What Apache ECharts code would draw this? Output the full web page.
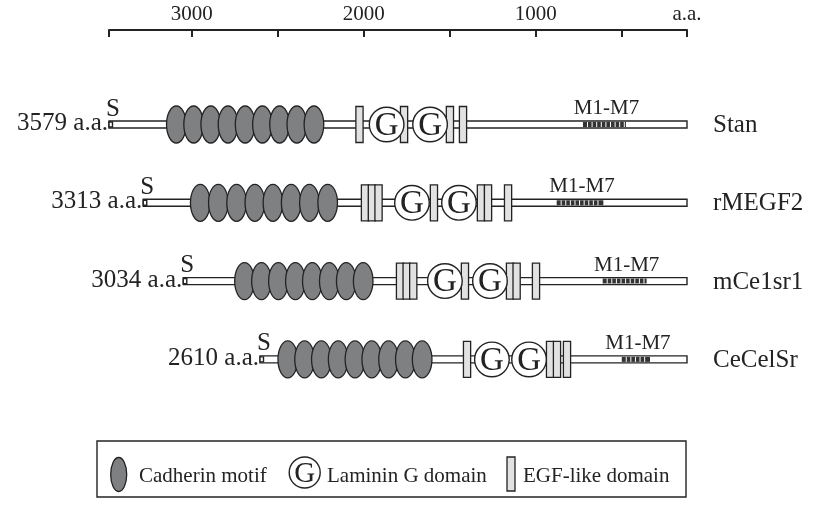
<!DOCTYPE html>
<html>
<head>
<meta charset="utf-8">
<script src="https://cdn.jsdelivr.net/npm/echarts@6/dist/echarts.min.js"></script>
<style>
html,body{margin:0;padding:0;background:#fff;}
#main{width:815px;height:511px;}
</style>
</head>
<body>
<div id="main"></div>
<script>
// ---- data (amino-acid positions) ----
const rowNames = ['Stan', 'rMEGF2', 'mCe1sr1', 'CeCelSr'];
const proteinLengths = [3579, 3313, 3034, 2610];
const drawnStart = [3579, 3367, 3119, 2644];   // N-terminal end as drawn
const drawnEnd = [0, 0, 0, 0];                  // C-terminal end as drawn

const cadherinStan    = [3162, 3055, 2949, 2842, 2736, 2629, 2523, 2416, 2310];
const cadherinRMEGF2  = [3014, 2902, 2789, 2676, 2564, 2451, 2338, 2225];
const cadherinMCelsr1 = [2740, 2635, 2530, 2425, 2320, 2215, 2110, 2005];
const cadherinCeCelSr = [2472, 2368, 2264, 2160, 2056, 1952, 1848, 1744, 1640];

const lamininStan    = [1860, 1591];
const lamininRMEGF2  = [1703, 1412];
const lamininMCelsr1 = [1499, 1220];
const lamininCeCelSr = [1208, 978];

const egfStan    = [2028, 1752, 1468, 1387];
const egfRMEGF2  = [1994, 1951, 1910, 1567, 1276, 1232, 1108];
const egfMCelsr1 = [1777, 1736, 1695, 1375, 1096, 1055, 935];
const egfCeCelSr = [1362, 848, 805, 743];

const tmStart = [644, 807, 522, 404];   // M1-M7 region
const tmEnd   = [378, 518, 250, 229];

const rulerTicks  = [3481, 3000, 2500, 2000, 1500, 1000, 500, 121];
const rulerLabels = [3000, 2000, 1000, 121];
const rulerEndLabel = 'a.a.';

// ---- build series data ----
const cadherins = [cadherinStan, cadherinRMEGF2, cadherinMCelsr1, cadherinCeCelSr];
const laminins = [lamininStan, lamininRMEGF2, lamininMCelsr1, lamininCeCelSr];
const egfs = [egfStan, egfRMEGF2, egfMCelsr1, egfCeCelSr];
const flat = arr => arr.flatMap((vals, r) => vals.map(v => [v, r]));

const FONT = '"Liberation Serif", "Times New Roman", serif';
const INK = '#232323';

const chart = echarts.init(document.getElementById('main'), null, {renderer: 'canvas'});

function renderBar(params, api) {
  const i = params.dataIndex;
  const r = api.value(2);
  const p0 = api.coord([api.value(0), r]);
  const p1 = api.coord([api.value(1), r]);
  const h = 7;
  return {
    type: 'group',
    children: [
      {type: 'rect', shape: {x: p0[0], y: p0[1] - h / 2, width: p1[0] - p0[0], height: h},
        style: {fill: '#fff', stroke: INK, lineWidth: 1.4}},
      {type: 'rect', shape: {x: p0[0], y: p0[1] - h / 2 + 1, width: 3.5, height: h - 2},
        style: {fill: '#fff', stroke: INK, lineWidth: 1.4}},
      {type: 'text', style: {text: 'S', x: p0[0] + 4, y: p0[1] - 3, align: 'center',
        verticalAlign: 'bottom', font: '25px ' + FONT, fill: INK}},
      {type: 'text', style: {text: proteinLengths[i] + ' a.a.', x: p0[0] - 1, y: p0[1] - 1,
        align: 'right', verticalAlign: 'middle', font: '25px ' + FONT, fill: INK}},
      {type: 'text', style: {text: rowNames[i], x: p1[0] + 26, y: p1[1] + 1,
        align: 'left', verticalAlign: 'middle', font: '25px ' + FONT, fill: INK}}
    ]
  };
}

function renderCadherin(params, api) {
  const p = api.coord([api.value(0), api.value(1)]);
  return {type: 'ellipse', shape: {cx: p[0], cy: p[1], rx: 9.8, ry: 18.5},
    style: {fill: '#7f8082', stroke: INK, lineWidth: 1.3}};
}

function renderLaminin(params, api) {
  const p = api.coord([api.value(0), api.value(1)]);
  return {type: 'group', children: [
    {type: 'circle', shape: {cx: p[0], cy: p[1], r: 17.3},
      style: {fill: '#fff', stroke: INK, lineWidth: 1.4}},
    {type: 'text', style: {text: 'G', x: p[0], y: p[1] + 1.5, align: 'center', verticalAlign: 'middle',
      font: '33px ' + FONT, fill: INK}}
  ]};
}

function renderEgf(params, api) {
  const p = api.coord([api.value(0), api.value(1)]);
  return {type: 'rect', shape: {x: p[0] - 3.6, y: p[1] - 18, width: 7.2, height: 36},
    style: {fill: '#e2e2e2', stroke: INK, lineWidth: 1.3}};
}

function renderTm(params, api) {
  const r = api.value(2);
  const p0 = api.coord([api.value(0), r]);
  const p1 = api.coord([api.value(1), r]);
  const h = 7;
  const children = [
    {type: 'rect', shape: {x: p0[0], y: p0[1] - h / 2 + 1, width: p1[0] - p0[0], height: h - 2},
      style: {fill: '#333', stroke: null}}
  ];
  for (let x = p0[0] + 4.5; x < p1[0] - 1; x += 4.6) {
    children.push({type: 'line', shape: {x1: x, y1: p0[1] - h / 2 + 1, x2: x, y2: p0[1] + h / 2 - 1},
      style: {stroke: '#fff', lineWidth: 1}});
  }
  children.push({type: 'text', style: {text: 'M1-M7', x: (p0[0] + p1[0]) / 2 + 2, y: p0[1] - h / 2 - 2,
    align: 'center', verticalAlign: 'bottom', font: '21px ' + FONT, fill: INK}});
  return {type: 'group', children};
}

const option = {
  backgroundColor: '#fff',
  animation: false,
  grid: {left: 109, right: 128, top: 85.35, height: 313.2},
  xAxis: [
    {type: 'value', inverse: true, min: 0, max: 3579, show: false},
    {type: 'value', inverse: true, min: 121, max: 3481, position: 'top', offset: 55.35,
      axisLine: {show: true, lineStyle: {color: INK, width: 2}},
      axisTick: {show: true, inside: true, length: 7, customValues: rulerTicks,
        lineStyle: {color: INK, width: 2}},
      axisLabel: {show: true, customValues: rulerLabels, margin: 5, color: INK,
        fontFamily: 'Liberation Serif', fontSize: 21,
        formatter: v => (v === 121 ? rulerEndLabel : String(v))},
      splitLine: {show: false}}
  ],
  yAxis: {type: 'value', inverse: true, min: -0.5, max: 3.5, show: false},
  series: [
    {type: 'custom', xAxisIndex: 0, yAxisIndex: 0, renderItem: renderBar, encode: {x: [0, 1], y: 2},
      data: rowNames.map((n, i) => [drawnStart[i], drawnEnd[i], i]), z: 1},
    {type: 'custom', xAxisIndex: 0, yAxisIndex: 0, renderItem: renderTm, encode: {x: [0, 1], y: 2},
      data: tmStart.map((s, i) => [s, tmEnd[i], i]), z: 2},
    {type: 'custom', xAxisIndex: 0, yAxisIndex: 0, renderItem: renderCadherin, encode: {x: 0, y: 1},
      data: flat(cadherins), z: 3},
    {type: 'custom', xAxisIndex: 0, yAxisIndex: 0, renderItem: renderEgf, encode: {x: 0, y: 1},
      data: flat(egfs), z: 3},
    {type: 'custom', xAxisIndex: 0, yAxisIndex: 0, renderItem: renderLaminin, encode: {x: 0, y: 1},
      data: flat(laminins), z: 4}
  ],
  graphic: [
    {type: 'rect', shape: {x: 97, y: 441, width: 589, height: 56}, style: {fill: 'none', stroke: INK, lineWidth: 1.4}},
    {type: 'ellipse', shape: {cx: 118.7, cy: 474.5, rx: 8, ry: 17}, style: {fill: '#7f8082', stroke: INK, lineWidth: 1.3}},
    {type: 'text', style: {text: 'Cadherin motif', x: 139, y: 476, verticalAlign: 'middle', font: '21px ' + FONT, fill: INK}},
    {type: 'circle', shape: {cx: 304.7, cy: 472.5, r: 15.5}, style: {fill: '#fff', stroke: INK, lineWidth: 1.4}},
    {type: 'text', style: {text: 'G', x: 304.7, y: 474, align: 'center', verticalAlign: 'middle', font: '29px ' + FONT, fill: INK}},
    {type: 'text', style: {text: 'Laminin G domain', x: 327, y: 476, verticalAlign: 'middle', font: '21px ' + FONT, fill: INK}},
    {type: 'rect', shape: {x: 507, y: 457, width: 8, height: 34}, style: {fill: '#e2e2e2', stroke: INK, lineWidth: 1.3}},
    {type: 'text', style: {text: 'EGF-like domain', x: 523, y: 476, verticalAlign: 'middle', font: '21px ' + FONT, fill: INK}}
  ]
};
chart.setOption(option);
</script>
</body>
</html>
